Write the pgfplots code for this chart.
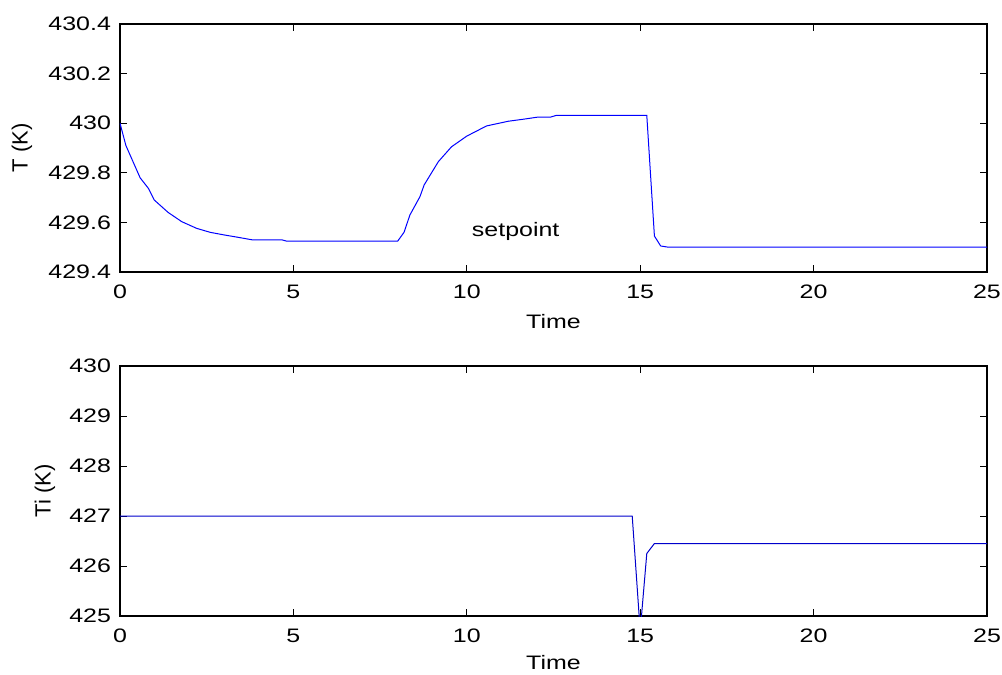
\documentclass[border=0pt]{standalone}
\usepackage{fontspec}
\setmainfont{Liberation Sans}
\usepackage{pgfplots}
\pgfplotsset{compat=1.18}
\begin{document}
\begin{tikzpicture}[font=\fontsize{9.75}{11}\selectfont]
\useasboundingbox (-60pt,-201.5pt) rectangle (441pt,136pt);
\pgfplotsset{
  mstyle/.style={
    scale only axis,
    width=433.5pt,
    xmin=0, xmax=25,
    xtick={0,5,10,15,20,25},
    tick align=inside,
    major tick length=3.5pt,
    axis line style={black, line width=0.6pt},
    every tick/.style={black, line width=0.5pt},
    /pgf/number format/assume math mode=true,
    xticklabel style={xscale=1.28, yshift=-3pt},
    yticklabel style={xscale=1.28, /pgf/number format/fixed, /pgf/number format/precision=1},
    axis background/.style={fill=white},
  }
}
\begin{axis}[mstyle,
  at={(0pt,0pt)}, anchor=south west,
  height=124pt,
  ymin=429.4, ymax=430.4,
  ytick={429.4,429.6,429.8,430,430.2,430.4},
  xlabel={Time}, ylabel={T (K)},
  xlabel style={at={(axis description cs:0.5,-0.2016)}, anchor=center, xscale=1.28},
  ylabel style={at={(axis description cs:-0.113,0.5)}, anchor=center, font=\fontsize{11}{13}\selectfont},
]
\addplot[blue, line width=0.5pt] coordinates {
(0,430.0) (0.17,429.91) (0.58,429.78) (0.82,429.737) (0.99,429.69) (1.39,429.64)
(1.78,429.603) (2.21,429.576) (2.6,429.56) (2.98,429.55) (3.4,429.54) (3.80,429.53)
(4.66,429.53) (4.79,429.525) (8.01,429.525) (8.19,429.56) (8.36,429.63) (8.65,429.704)
(8.77,429.751) (9.18,429.845) (9.56,429.905) (10.0,429.948) (10.57,429.989) (11.2,430.008)
(11.63,430.016) (12.02,430.024) (12.4,430.024) (12.59,430.032) (15.19,430.032)
(15.41,429.545) (15.59,429.505) (15.81,429.50) (25,429.50)
};
\node[xscale=1.28] at (axis cs:11.41,429.563) {setpoint};
\end{axis}
\begin{axis}[mstyle,
  at={(0pt,-172pt)}, anchor=south west,
  height=125pt,
  ymin=425, ymax=430,
  ytick={425,426,427,428,429,430},
  xlabel={Time}, ylabel={Ti (K)},
  xlabel style={at={(axis description cs:0.5,-0.188)}, anchor=center, xscale=1.28},
  ylabel style={at={(axis description cs:-0.0865,0.5)}, anchor=center, font=\fontsize{11}{13}\selectfont},
  yticklabel style={/pgf/number format/precision=0},
]
\addplot[blue!80!black, line width=0.5pt] coordinates {
(0,427) (14.77,427) (15.0,424.7) (15.19,426.25) (15.41,426.45) (25,426.45)
};
\end{axis}
\end{tikzpicture}
\end{document}
